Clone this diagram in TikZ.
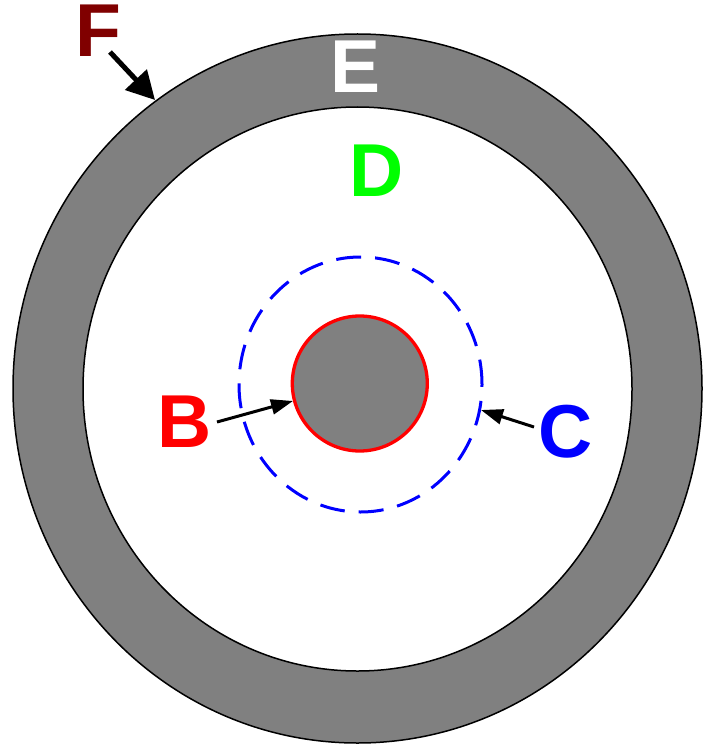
\documentclass[tikz,border=0pt]{standalone}
\usepackage{fontspec}
\setmainfont{Liberation Sans}
\usetikzlibrary{shapes.geometric,arrows.meta}
\definecolor{ringgray}{HTML}{808080}
\definecolor{darkred}{HTML}{800000}
\definecolor{brightgreen}{HTML}{00FF00}
\tikzset{
  lbl/.style={inner sep=0pt, font=\fontsize{75}{75}\selectfont\bfseries},
  ring/.style={ellipse, inner sep=0pt, outer sep=0pt},
  bigarrow/.style={line width=5pt, -{Triangle[length=28pt,width=29pt]}},
  smallarrow/.style={line width=3pt, -{Triangle[length=22pt,width=15pt]}}
}
\begin{document}
\begin{tikzpicture}[x=1pt,y=-1pt]
\useasboundingbox (0,0) rectangle (708,746);
\node[ring, draw=black, line width=1.5pt, fill=ringgray, minimum width=689pt, minimum height=709pt] (outer) at (357.5,388.5) {};
\node[ring, draw=black, line width=1.5pt, fill=white, minimum width=549pt, minimum height=564pt] (inner) at (357.5,389) {};
\node[ring, draw=blue, line width=3pt, dash pattern=on 25pt off 14pt, minimum width=243pt, minimum height=255pt] (dashc) at (360.5,384.5) {};
\node[ring, draw=red, line width=3.3pt, fill=ringgray, minimum width=135pt, minimum height=135pt] (core) at (359.8,383.5) {};

\node[lbl, text=darkred] (F) at (98,31) {F};
\node[lbl, text=white] (E) at (356,67) {E};
\node[lbl, text=brightgreen] (D) at (377,171) {D};
\node[lbl, text=red] (B) at (185,422) {B};
\node[lbl, text=blue] (C) at (566,432) {C};

\coordinate (fs) at (110,52);
\coordinate (ft) at (155,100);
\coordinate (bs) at (217,422);
\coordinate (bt) at (293,401);
\coordinate (cs) at (534,427);
\coordinate (ct) at (481,410);
\draw[bigarrow] (fs) -- (ft);
\draw[smallarrow] (bs) -- (bt);
\draw[smallarrow] (cs) -- (ct);
\end{tikzpicture}
\end{document}
